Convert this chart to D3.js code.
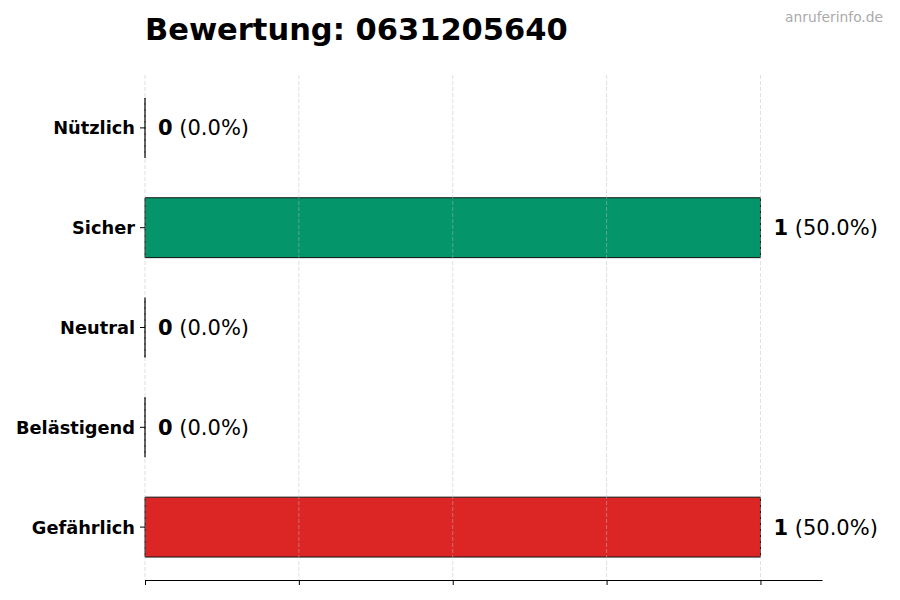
<!DOCTYPE html>
<html>
<head>
<meta charset="utf-8">
<script src="https://cdn.jsdelivr.net/npm/d3@7"></script>
<style>
  body { margin: 0; background: #fff; }
  svg { font-family: "DejaVu Sans", sans-serif; }
</style>
</head>
<body>
<svg width="900" height="600"></svg>
<script>
// Data
const categories = ["Nützlich", "Sicher", "Neutral", "Belästigend", "Gefährlich"];
const counts = [0, 1, 0, 0, 1];
const percents = ["0.0%", "50.0%", "0.0%", "0.0%", "50.0%"];
const barColors = ["#6b7280", "#04966a", "#9ca3af", "#f59e0b", "#dc2626"];
const xTicks = [0, 0.25, 0.5, 0.75, 1.0];

const margin = {top: 75, right: 78, bottom: 20, left: 145};
const svg = d3.select("svg");
const width = 900 - margin.left - margin.right;
const height = 600 - margin.top - margin.bottom;

const g = svg.append("g")
    .attr("transform", `translate(${margin.left},${margin.top})`);

const x = d3.scaleLinear()
    .domain([0, 1.1])
    .range([0, width]);

// bands: 100px step, bar height 0.6 of step, 0.53 step margin top/bottom
const step = height / 5.06;
const y = i => (0.53 + i) * step;
const barH = 0.6 * step;

// Bars (path so zero-width bars still show their edge)
g.selectAll(".bar")
    .data(counts)
    .enter()
    .append("path")
    .attr("class", "bar")
    .attr("d", (d, i) => {
        const y0 = y(i) - barH / 2, y1 = y(i) + barH / 2;
        return `M${x(0)},${y0}H${x(d)}V${y1}H${x(0)}Z`;
    })
    .attr("fill", (d, i) => barColors[i])
    .attr("stroke", "#111")
    .attr("stroke-width", 1);

// Grid on top
g.selectAll(".grid")
    .data(xTicks)
    .enter()
    .append("line")
    .attr("x1", d => x(d))
    .attr("x2", d => x(d))
    .attr("y1", 0)
    .attr("y2", height)
    .attr("stroke", "#bbb")
    .attr("stroke-opacity", 0.6)
    .attr("stroke-width", 0.8)
    .attr("stroke-dasharray", "4,2");

// Bottom axis without labels
const xAxis = g.append("g")
    .attr("transform", `translate(0,${height})`)
    .call(d3.axisBottom(x).tickValues(xTicks).tickFormat("").tickSize(5).tickSizeOuter(0));
xAxis.select(".domain").attr("stroke", "#000").attr("stroke-width", 1);
xAxis.selectAll(".tick line").attr("stroke", "#000");

// Y ticks and labels
categories.forEach((c, i) => {
    g.append("line")
        .attr("x1", -5).attr("x2", 0)
        .attr("y1", y(i)).attr("y2", y(i))
        .attr("stroke", "#000");
    g.append("text")
        .attr("x", -10)
        .attr("y", y(i))
        .attr("dy", "0.36em")
        .attr("text-anchor", "end")
        .attr("font-size", 17.8)
        .attr("font-weight", "bold")
        .text(c);
});

// Value labels
const labels = g.selectAll(".val")
    .data(counts)
    .enter()
    .append("text")
    .attr("class", "val")
    .attr("x", d => x(d) + 13)
    .attr("y", (d, i) => y(i))
    .attr("dy", "0.36em")
    .attr("font-size", 21);
labels.append("tspan").attr("font-weight", "bold").text(d => d);
labels.append("tspan").text((d, i) => ` (${percents[i]})`);

// Title
svg.append("text")
    .attr("x", margin.left)
    .attr("y", 40)
    .attr("font-size", 30.5)
    .attr("font-weight", "bold")
    .text("Bewertung: 0631205640");

// Watermark
svg.append("text")
    .attr("x", 883)
    .attr("y", 22)
    .attr("text-anchor", "end")
    .attr("font-size", 13.8)
    .attr("fill", "#aaa")
    .text("anruferinfo.de");
</script>
</body>
</html>
